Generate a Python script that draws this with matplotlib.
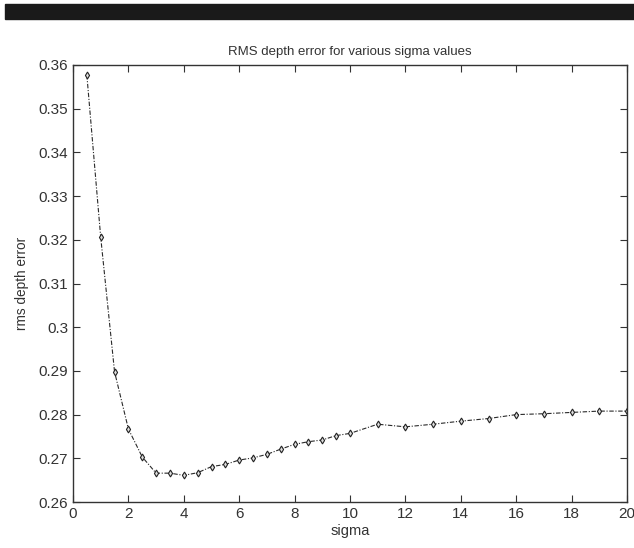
import numpy as np
import matplotlib.pyplot as plt
from matplotlib.patches import Rectangle

plt.rcParams['font.family'] = ['Liberation Sans', 'DejaVu Sans']

sigma = [0.5, 1, 1.5, 2, 2.5, 3, 3.5, 4, 4.5, 5, 5.5, 6, 6.5, 7, 7.5, 8, 8.5, 9, 9.5, 10,
         11, 12, 13, 14, 15, 16, 17, 18, 19, 20]
rms_err = [0.3577, 0.3206, 0.2898, 0.2767, 0.2703, 0.2666, 0.2666, 0.2661, 0.2667, 0.2681,
           0.2686, 0.2696, 0.2701, 0.2709, 0.2721, 0.2732, 0.2738, 0.2742, 0.2752, 0.2757,
           0.2778, 0.2772, 0.2778, 0.2785, 0.2791, 0.2800, 0.2802, 0.2805, 0.2808, 0.2808]
xticks = list(range(0, 21, 2))
yticks = [0.26, 0.27, 0.28, 0.29, 0.30, 0.31, 0.32, 0.33, 0.34, 0.35, 0.36]
yticklabels = ['0.26', '0.27', '0.28', '0.29', '0.3', '0.31', '0.32', '0.33', '0.34', '0.35', '0.36']

fig = plt.figure(figsize=(6.34, 5.48), dpi=100)
# black band across the top of the image
fig.patches.append(Rectangle((5 / 634, 1 - 19 / 548), 1, 15 / 548,
                             transform=fig.transFigure, color='#1a1a1a', zorder=0))

ax = fig.add_axes([73 / 634, 46 / 548, 554 / 634, 437 / 548])
ax.plot(sigma, rms_err, linestyle=(0, (4, 1.5, 1, 1.5)), color='#2a2a2a', linewidth=0.8,
        marker='d', markersize=3.5, markerfacecolor='#dddddd', markeredgecolor='#222222',
        markeredgewidth=0.8)

ax.set_xlim(0, 20)
ax.set_ylim(0.26, 0.36)
ax.set_xticks(xticks)
ax.set_yticks(yticks)
ax.set_yticklabels(yticklabels)
ax.tick_params(direction='in', length=5, top=True, right=True, labelsize=11, colors='#333333')
for s in ax.spines.values():
    s.set_color('#333333')
    s.set_linewidth(1.0)

ax.set_title('RMS depth error for various sigma values', fontsize=9.5, color='#333333', pad=7)
ax.set_xlabel('sigma', fontsize=10.5, color='#333333', labelpad=2)
ax.set_ylabel('rms depth error', fontsize=9.8, color='#333333', labelpad=7)

fig.savefig('out.png', dpi=100)
